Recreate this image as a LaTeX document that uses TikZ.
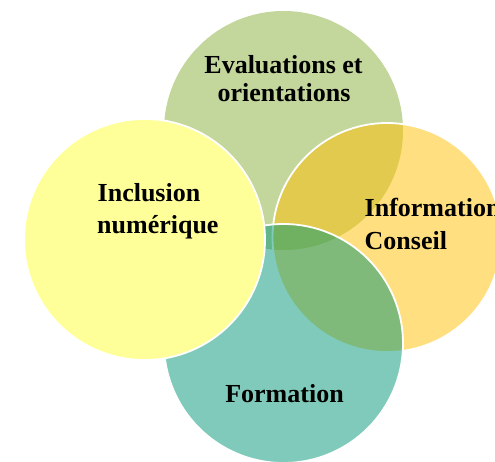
\documentclass[tikz,border=0pt]{standalone}
\usepackage{fontspec}
\setmainfont{Liberation Serif}
\definecolor{evalc}{RGB}{135,173,55}
\definecolor{infoc}{RGB}{255,192,0}
\definecolor{formc}{RGB}{0,150,118}
\definecolor{inclc}{RGB}{255,255,153}
\begin{document}
\begin{tikzpicture}[x=1pt,y=-1pt,
  lbl/.style={inner sep=0pt, font=\fontsize{26}{28}\selectfont\bfseries, text=black},
  ring/.style={draw=white, line width=1.8pt}]
\useasboundingbox (0,0) rectangle (495,462);
\clip (0,0) rectangle (495,462);
% circles
\fill[evalc, fill opacity=0.5] (283.5,130.5) circle[radius=119.5pt];
\path[ring, fill=infoc, fill opacity=0.5] (387,237.5) circle[radius=114.5pt];
\path[ring, fill=formc, fill opacity=0.5] (283.5,343.5) circle[radius=119.5pt];
\path[ring, fill=inclc] (144.5,239.5) circle[radius=120.5pt];
% labels
\node[lbl, anchor=base] (eval1) at (283.5,74) {Evaluations et};
\node[lbl, anchor=base] (eval2) at (284,101.7) {orientations};
\node[lbl, anchor=base west] (incl1) at (97.5,201.7) {Inclusion};
\node[lbl, anchor=base west] (incl2) at (97,233.3) {numérique};
\node[lbl, anchor=base west] (info1) at (364.5,216.5) {Information};
\node[lbl, anchor=base west] (info2) at (364.5,249.5) {Conseil};
\node[lbl, anchor=base] (form) at (284.5,402) {Formation};
\end{tikzpicture}
\end{document}
